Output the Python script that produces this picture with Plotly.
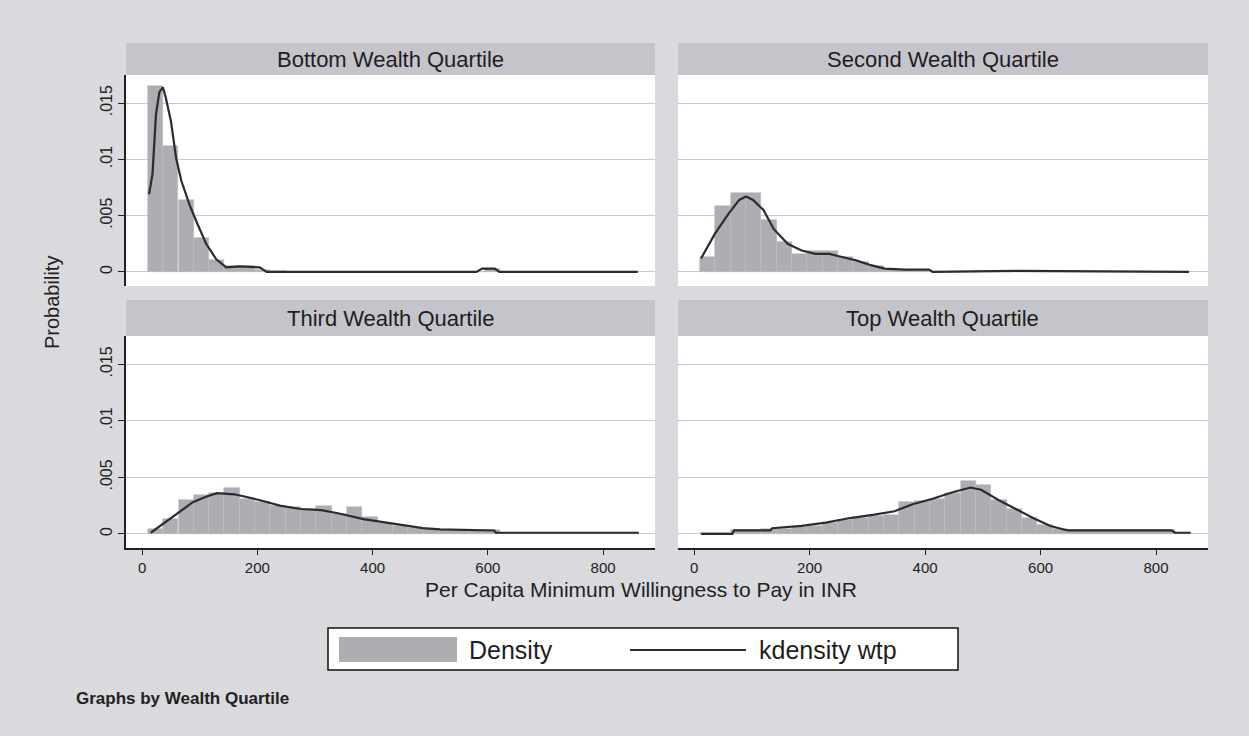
import plotly.graph_objects as go

# ---------------- data ----------------
panel_titles = ["Bottom Wealth Quartile", "Second Wealth Quartile",
                "Third Wealth Quartile", "Top Wealth Quartile"]

bin_centers = [23.3, 49.8, 76.4, 103.0, 129.5, 156.1, 182.7, 209.2, 235.8, 262.3,
               288.9, 315.5, 342.0, 368.6, 395.2, 421.7, 448.3, 474.8, 501.4, 528.0,
               554.5, 581.1, 607.7, 634.2, 660.8, 687.3, 713.9, 740.5, 767.0, 793.6,
               820.2, 846.7]
bin_width = 26.56

hist_bottom = [0.0165, 0.0112, 0.0064, 0.0030, 0.0011, 0.0005, 0.0005, 0.0002, 0.0001, 0.0,
               0.0, 0.0, 0.0, 0.0, 0.0, 0.0, 0.0, 0.0, 0.0, 0.0,
               0.0, 0.0, 0.0003, 0.0, 0.0, 0.0, 0.0, 0.0, 0.0, 0.0,
               0.0, 0.0]
hist_second = [0.0013, 0.0059, 0.0070, 0.0070, 0.0046, 0.0027, 0.0016, 0.0019, 0.0019, 0.0013,
               0.0009, 0.0005, 0.0002, 0.0002, 0.0001, 0.0, 0.0, 0.0, 0.0001, 0.0001,
               0.0, 0.0, 0.0, 0.0, 0.0, 0.0, 0.0, 0.0, 0.0, 0.0,
               0.0, 0.0]
hist_third = [0.0004, 0.0013, 0.0030, 0.0034, 0.0036, 0.0041, 0.0031, 0.0028, 0.0025, 0.0024,
              0.0022, 0.0025, 0.0018, 0.0024, 0.0015, 0.0010, 0.0007, 0.0005, 0.0004, 0.0003,
              0.0003, 0.0003, 0.0003, 0.0001, 0.0001, 0.0001, 0.0001, 0.0001, 0.0001, 0.0001,
              0.0001, 0.0001]
hist_top = [0.0001, 0.0001, 0.0003, 0.0003, 0.0004, 0.0004, 0.0006, 0.0007, 0.0010, 0.0012,
            0.0014, 0.0016, 0.0017, 0.0028, 0.0029, 0.0031, 0.0036, 0.0047, 0.0043, 0.0030,
            0.0022, 0.0014, 0.0008, 0.0004, 0.0003, 0.0003, 0.0003, 0.0003, 0.0003, 0.0003,
            0.0003, 0.0001]

kd_bottom_x = [12, 18, 24, 30, 36, 41, 50, 59, 68, 82, 94, 111, 129, 146, 169, 204, 216,
               400, 580, 590, 600, 612, 620, 860]
kd_bottom_y = [0.0069, 0.0087, 0.0140, 0.0160, 0.0164, 0.0155, 0.0134, 0.0101, 0.0081,
               0.0060, 0.0045, 0.0025, 0.0011, 0.0004, 0.0005, 0.0004, 0.0,
               0.0, 0.0, 0.0003, 0.0003, 0.0003, 0.0, 0.0]

kd_second_x = [12, 36, 60, 78, 90, 102, 120, 138, 162, 186, 210, 234, 258, 282, 306, 330,
               365, 407, 413, 557, 857]
kd_second_y = [0.0012, 0.0034, 0.0052, 0.0064, 0.0067, 0.0064, 0.0055, 0.0038, 0.0025,
               0.0019, 0.0016, 0.0016, 0.0013, 0.0010, 0.0006, 0.0003, 0.0002, 0.0002,
               0.0, 0.0001, 0.0]

kd_third_x = [15, 39, 63, 88, 112, 130, 160, 203, 239, 275, 311, 342, 384, 420, 456, 487,
              517, 611, 614, 862]
kd_third_y = [0.0001, 0.0010, 0.0019, 0.0028, 0.0033, 0.0036, 0.0035, 0.0030, 0.0025,
              0.0022, 0.0021, 0.0018, 0.0013, 0.0010, 0.0007, 0.0005, 0.0004, 0.0003,
              0.0001, 0.0001]

kd_top_x = [12, 66, 69, 132, 135, 186, 228, 270, 312, 347, 377, 413, 449, 479, 497, 527,
            557, 587, 617, 647, 827, 833, 860]
kd_top_y = [0.0, 0.0, 0.0003, 0.0003, 0.0005, 0.0007, 0.0010, 0.0014, 0.0017, 0.0020,
            0.0026, 0.0031, 0.0037, 0.0041, 0.0039, 0.0030, 0.0022, 0.0014, 0.0007,
            0.0003, 0.0003, 0.0001, 0.0001]

x_ticks = [0, 200, 400, 600, 800]
y_ticks = [0, 0.005, 0.01, 0.015]
y_tick_labels = ["0", ".005", ".01", ".015"]

legend_labels = ["Density", "kdensity wtp"]
x_title = "Per Capita Minimum Willingness to Pay in INR"
y_title = "Probability"
note = "Graphs by Wealth Quartile"

# ---------------- styling / layout ----------------
W, H = 1249, 736
BG = "#d9d9de"
BAND = "#c4c4ca"
BAR = "#adadb2"
LINE = "#2b2b33"
GRID = "#c6c6e0"
FONT = "Liberation Sans, Arial, sans-serif"

def px_x(p):
    return p / W

def px_y(p):
    return 1 - p / H

cols = [(126, 655), (678, 1208)]
rows = [(75, 286), (336, 548)]  # top, bottom (pixel y of white region)
bands = [(43, 75), (300, 336)]

hists = [hist_bottom, hist_second, hist_third, hist_top]
kds = [(kd_bottom_x, kd_bottom_y), (kd_second_x, kd_second_y),
       (kd_third_x, kd_third_y), (kd_top_x, kd_top_y)]

fig = go.Figure()
shapes = []
annotations = []

for i in range(4):
    r, c = divmod(i, 2)
    n = i + 1
    xa = "x" if n == 1 else f"x{n}"
    ya = "y" if n == 1 else f"y{n}"
    fig.add_trace(go.Bar(x=bin_centers, y=hists[i], width=bin_width,
                         marker=dict(color=BAR, line=dict(color="#bcbcc0", width=0.6)),
                         xaxis=xa, yaxis=ya, showlegend=False, name=legend_labels[0]))
    fig.add_trace(go.Scatter(x=kds[i][0], y=kds[i][1], mode="lines",
                             line=dict(color=LINE, width=2.2),
                             xaxis=xa, yaxis=ya, showlegend=False, name=legend_labels[1]))
    x0, x1 = cols[c]
    y0, y1 = rows[r]
    is_bottom = r == 1
    is_left = c == 0
    xkey = "xaxis" if n == 1 else f"xaxis{n}"
    ykey = "yaxis" if n == 1 else f"yaxis{n}"
    fig.layout[xkey] = dict(
        domain=[px_x(x0), px_x(x1)], range=[-28, 890], anchor=ya,
        showgrid=False, zeroline=False,
        showline=is_bottom, linecolor="#202020", linewidth=1.6,
        ticks="outside" if is_bottom else "", ticklen=5, tickwidth=1.3, tickcolor="#202020",
        tickvals=x_ticks, showticklabels=is_bottom,
        tickfont=dict(family=FONT, size=15, color="#222222"),
        fixedrange=True,
    )
    fig.layout[ykey] = dict(
        domain=[px_y(y1), px_y(y0)], range=[-0.00125, 0.0175], anchor=xa,
        showgrid=True, gridcolor=GRID, gridwidth=1, zeroline=False,
        showline=is_left, linecolor="#202020", linewidth=1.6,
        ticks="outside" if is_left else "", ticklen=6, tickwidth=1.3, tickcolor="#202020",
        tickvals=y_ticks, ticktext=y_tick_labels, showticklabels=is_left,
        tickangle=-90, tickfont=dict(family=FONT, size=16, color="#222222"),
        fixedrange=True,
    )
    # white plot region
    shapes.append(dict(type="rect", xref="paper", yref="paper", layer="below",
                       x0=px_x(x0), x1=px_x(x1), y0=px_y(y1), y1=px_y(y0),
                       fillcolor="white", line=dict(width=0)))
    # title band
    b0, b1 = bands[r]
    shapes.append(dict(type="rect", xref="paper", yref="paper", layer="below",
                       x0=px_x(x0), x1=px_x(x1), y0=px_y(b1), y1=px_y(b0),
                       fillcolor=BAND, line=dict(width=0)))
    annotations.append(dict(text=panel_titles[i], xref="paper", yref="paper",
                            x=px_x((x0 + x1) / 2), y=px_y((b0 + b1) / 2),
                            xanchor="center", yanchor="middle", showarrow=False,
                            font=dict(family=FONT, size=22, color="#1e1e1e")))

# axis titles
annotations.append(dict(text=x_title, xref="paper", yref="paper",
                        x=px_x(641), y=px_y(589), xanchor="center", yanchor="middle",
                        showarrow=False, font=dict(family=FONT, size=21, color="#222222")))
annotations.append(dict(text=y_title, xref="paper", yref="paper",
                        x=px_x(52), y=px_y(303), xanchor="center", yanchor="middle",
                        textangle=-90, showarrow=False,
                        font=dict(family=FONT, size=20, color="#222222")))

# legend box (drawn manually to match wide Stata keys)
shapes.append(dict(type="rect", xref="paper", yref="paper",
                   x0=px_x(328), x1=px_x(958), y0=px_y(670), y1=px_y(628),
                   fillcolor="white", line=dict(color="#111111", width=1.5)))
shapes.append(dict(type="rect", xref="paper", yref="paper",
                   x0=px_x(339), x1=px_x(457), y0=px_y(662), y1=px_y(637),
                   fillcolor=BAR, line=dict(width=0)))
shapes.append(dict(type="line", xref="paper", yref="paper",
                   x0=px_x(630), x1=px_x(746), y0=px_y(650), y1=px_y(650),
                   line=dict(color=LINE, width=1.8)))
annotations.append(dict(text=legend_labels[0], xref="paper", yref="paper",
                        x=px_x(467), y=px_y(650), xanchor="left", yanchor="middle",
                        showarrow=False, font=dict(family=FONT, size=25, color="#1e1e1e")))
annotations.append(dict(text=legend_labels[1], xref="paper", yref="paper",
                        x=px_x(757), y=px_y(650), xanchor="left", yanchor="middle",
                        showarrow=False, font=dict(family=FONT, size=25, color="#1e1e1e")))

annotations.append(dict(text="<b>" + note + "</b>", xref="paper", yref="paper",
                        x=px_x(74), y=px_y(698), xanchor="left", yanchor="middle",
                        showarrow=False, font=dict(family=FONT, size=17, color="#222222")))

fig.update_layout(
    width=W, height=H, margin=dict(l=0, r=0, t=0, b=0),
    paper_bgcolor=BG, plot_bgcolor="rgba(0,0,0,0)",
    bargap=0, barmode="overlay",
    shapes=shapes, annotations=annotations, showlegend=False,
)

fig.write_html("out.html",
               config={"displayModeBar": False},
               post_script="document.body.style.margin='0';"
                           "document.body.style.overflow='hidden';"
                           "document.body.style.background='" + BG + "';")
